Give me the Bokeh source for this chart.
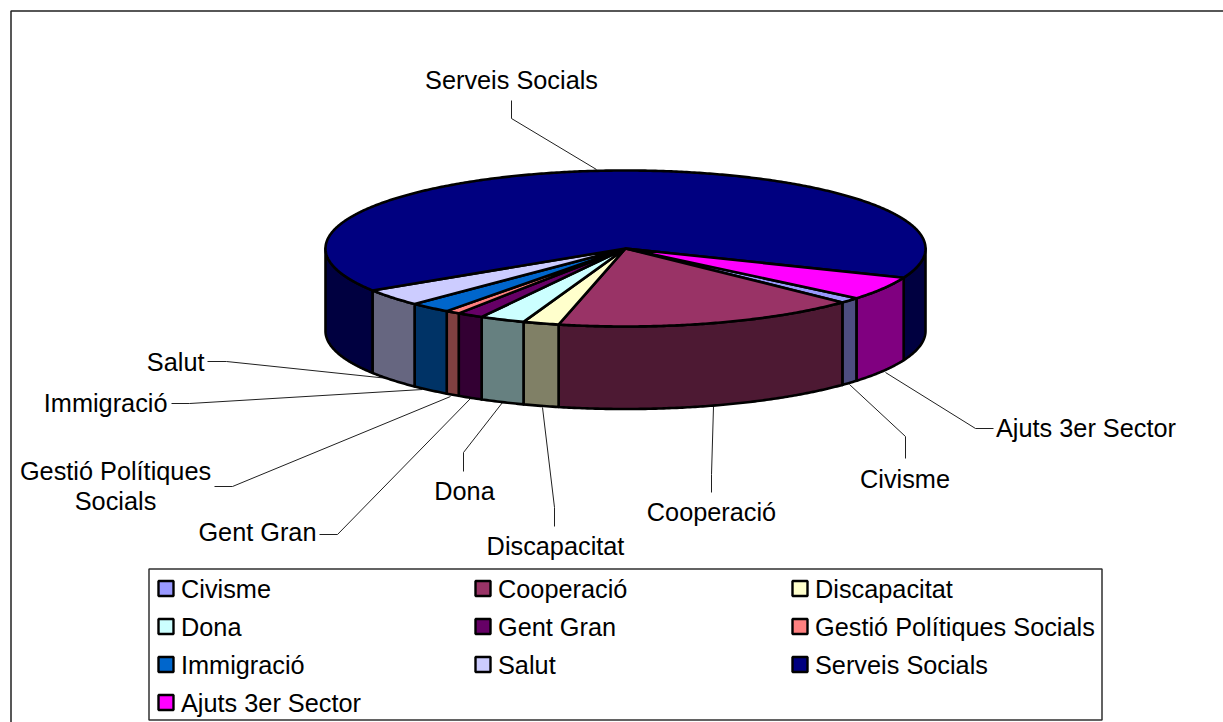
import numpy as np
from bokeh.plotting import figure
from bokeh.core.properties import value
from bokeh.embed import file_html
from bokeh.resources import INLINE

categories = ["Civisme", "Cooperació", "Discapacitat", "Dona", "Gent Gran",
              "Gestió Polítiques Socials", "Immigració", "Salut", "Serveis Socials", "Ajuts 3er Sector"]
shares = [1.14, 16.44, 1.94, 2.44, 1.42, 0.78, 2.25, 3.56, 65.14, 4.89]
top_colors = ["#9999FF", "#993366", "#FFFFCC", "#CCFFFF", "#660066",
              "#FF8080", "#0066CC", "#CCCCFF", "#000080", "#FF00FF"]
side_colors = ["#4D4D80", "#4D1933", "#808066", "#668080", "#330033",
               "#804040", "#003366", "#666680", "#000040", "#800080"]

# pie geometry (page pixels)
CX, CY, RX, RY, DEPTH = 625, 248, 300, 78, 82.5
START = 39.6

W, H = 1223, 722
p = figure(width=W, height=H, x_range=(0, W), y_range=(H, 0),
           x_axis_type=None, y_axis_type=None, toolbar_location=None,
           output_backend="svg", min_border=0, outline_line_color=None)
p.grid.visible = False
p.background_fill_color = "white"

FONT = value("Liberation Sans")
FS = "25.3px"

# chart frame (only its top and left edges fall inside the window)
p.line([10.5, 10.5, 1223], [722, 10.5, 10.5], line_color="#202020", line_width=1.5)


def arc(a, b):
    t = np.radians(np.linspace(a, b, max(int(abs(b - a) * 2), 2)))
    return CX + RX * np.cos(t), CY + RY * np.sin(t)


edges = START + np.concatenate([[0], np.cumsum(shares)]) * 3.6

side_x, side_y, side_c = [], [], []
top_x, top_y, top_c = [], [], []
for i in range(len(categories)):
    a, b = edges[i], edges[i + 1]
    for k in (0, 360):
        lo, hi = max(a, k), min(b, k + 180)
        if hi > lo:
            x, y = arc(lo, hi)
            side_x.append(list(x) + list(x[::-1]))
            side_y.append(list(y) + list((y + DEPTH)[::-1]))
            side_c.append(side_colors[i])
    x, y = arc(a, b)
    top_x.append([CX] + list(x))
    top_y.append([CY] + list(y))
    top_c.append(top_colors[i])

leaders = [
    ([511, 511, 596], [100, 118, 169]),
    ([993, 975, 885], [428, 428, 372]),
    ([905, 905, 849], [458, 436, 384]),
    ([711, 711, 713], [492, 474, 406]),
    ([554, 554, 542], [526, 507, 407]),
    ([463, 463, 502], [471, 452, 402]),
    ([319, 337, 470], [534, 534, 398]),
    ([214, 232, 450], [486, 486, 396]),
    ([171, 189, 422], [403, 403, 389]),
    ([207, 226, 388], [361, 361, 378]),
]
p.multi_line([l[0] for l in leaders], [l[1] for l in leaders], line_color="#202020", line_width=1)

p.patches(side_x, side_y, fill_color=side_c, line_color="black", line_width=2.6, line_join="round")
p.patches(top_x, top_y, fill_color=top_c, line_color="black", line_width=2.6, line_join="round")

labels = [
    ("Serveis Socials", 511, 79, "center"),
    ("Ajuts 3er Sector", 995.5, 427, "left"),
    ("Civisme", 904.5, 478, "center"),
    ("Cooperació", 711, 511, "center"),
    ("Discapacitat", 555, 545, "center"),
    ("Dona", 464, 490, "center"),
    ("Gent Gran", 316, 531, "right"),
    ("Gestió Polítiques", 115, 470, "center"),
    ("Socials", 115, 500, "center"),
    ("Immigració", 167, 402, "right"),
    ("Salut", 204, 361, "right"),
]
for t, x, y, al in labels:
    p.text([x], [y], text=[t], text_align=al, text_baseline="middle",
           text_font=FONT, text_font_size=FS, text_color="black")

# legend
p.quad(left=[148.5], right=[1101.5], top=[568.5], bottom=[719.5],
       fill_color="white", line_color="#303030", line_width=1.5)
col_x = [165.5, 482.5, 799.5]
row_y = [588, 626, 664, 702]
lx, ly, lc, tx, ty, tt = [], [], [], [], [], []
for i, name in enumerate(categories):
    r, c = divmod(i, 3)
    lx.append(col_x[c]); ly.append(row_y[r]); lc.append(top_colors[i])
    tx.append(col_x[c] + 15); ty.append(row_y[r]); tt.append(name)
p.rect(lx, ly, width=15, height=15, fill_color=lc, line_color="black", line_width=2.4)
p.text(tx, ty, text=tt, text_align="left", text_baseline="middle",
       text_font=FONT, text_font_size=FS, text_color="black")

open("out.html", "w").write(file_html(p, INLINE))
